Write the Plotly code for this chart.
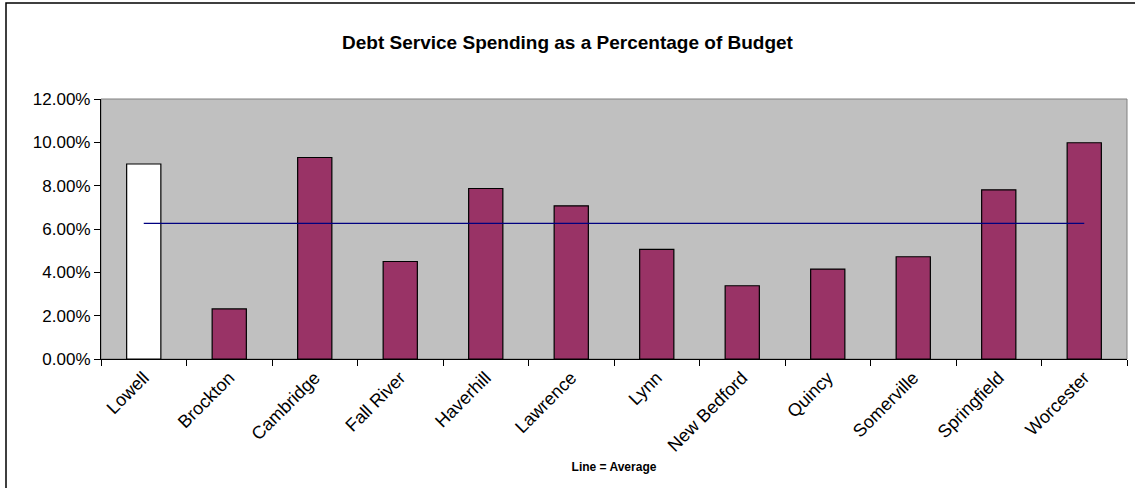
import plotly.graph_objects as go

# Debt service spending as a share of the municipal budget
cities = ["Lowell", "Brockton", "Cambridge", "Fall River", "Haverhill", "Lawrence",
          "Lynn", "New Bedford", "Quincy", "Somerville", "Springfield", "Worcester"]
debt_share = [0.0900, 0.0231, 0.0930, 0.0450, 0.0787, 0.0707,
              0.0506, 0.0338, 0.0415, 0.0472, 0.0781, 0.0998]
y_ticks = [0.0, 0.02, 0.04, 0.06, 0.08, 0.10, 0.12]

average = sum(debt_share) / len(debt_share)
average_line = [average] * len(cities)

bar_colors = ["#FFFFFF"] + ["#993366"] * (len(cities) - 1)

FONT = "Liberation Sans, Arial, sans-serif"

fig = go.Figure()
fig.add_trace(go.Bar(
    x=cities, y=debt_share,
    marker=dict(color=bar_colors, line=dict(color="#000000", width=1.2)),
    hoverinfo="x+y", showlegend=False,
))
fig.add_trace(go.Scatter(
    x=cities, y=average_line, mode="lines",
    line=dict(color="#000080", width=1.2),
    showlegend=False, hoverinfo="skip",
))

fig.update_layout(
    width=1135, height=488,
    margin=dict(l=101, r=8, t=99, b=129),
    paper_bgcolor="#FFFFFF",
    plot_bgcolor="#C0C0C0",
    bargap=0.6,
    title=dict(
        text="<b>Debt Service Spending as a Percentage of Budget</b>",
        x=0.5, xref="container", xanchor="center",
        y=1 - 42 / 488, yref="container", yanchor="middle",
        font=dict(family=FONT, size=19, color="#000000"),
    ),
    font=dict(family=FONT, color="#000000"),
    xaxis=dict(
        type="category",
        tickangle=-45,
        tickson="boundaries",
        ticks="outside", ticklen=6, tickcolor="#000000", tickwidth=1,
        showline=True, linecolor="#000000", linewidth=1.2,
        showgrid=False, zeroline=False,
        tickfont=dict(family=FONT, size=18, color="#000000"),
        title=dict(text="<b>Line = Average</b>", standoff=8,
                   font=dict(family=FONT, size=12, color="#000000")),
    ),
    yaxis=dict(
        range=[0, 0.12],
        tickvals=y_ticks,
        tickformat=".2%",
        ticks="outside", ticklen=6, tickcolor="#000000", tickwidth=1,
        showline=True, linecolor="#000000", linewidth=1.2,
        showgrid=False, zeroline=False,
        tickfont=dict(family=FONT, size=17, color="#000000"),
    ),
    shapes=[
        # grey frame on the upper and right edges of the plot area
        dict(type="rect", xref="paper", yref="paper", x0=0, x1=1, y0=0, y1=1,
             line=dict(color="#808080", width=1), fillcolor="rgba(0,0,0,0)",
             layer="below"),
        # outer chart border
        dict(type="rect", xref="paper", yref="paper",
             x0=(6 - 101) / 1026, x1=1.5, y0=-2, y1=(359 - 3) / 260,
             line=dict(color="#000000", width=1.5), fillcolor="rgba(0,0,0,0)"),
    ],
)

fig.write_html("out.html")
